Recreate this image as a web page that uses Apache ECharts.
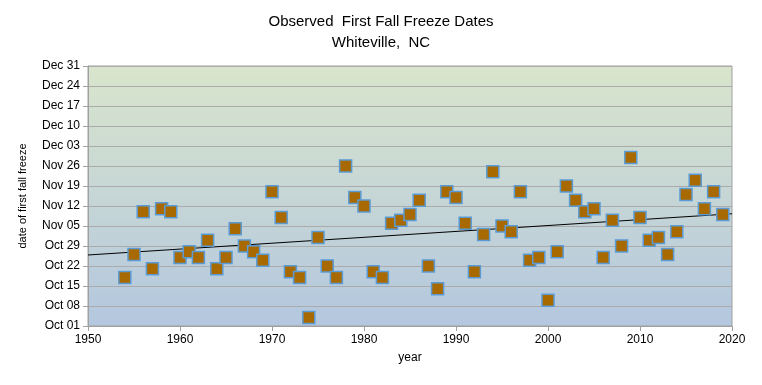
<!DOCTYPE html>
<html><head><meta charset="utf-8">
<script src="https://cdn.jsdelivr.net/npm/echarts@6/dist/echarts.min.js"></script>
<style>html,body{margin:0;padding:0;background:#fff}#c{width:762px;height:385px}</style>
</head><body><div id="c"></div>
<script>
// first freeze: days after Oct 01
var years = [1954,1955,1956,1957,1958,1959,1960,1961,1962,1963,1964,1965,1966,1967,1968,1969,1970,1971,1972,1973,1974,1975,1976,1977,1978,1979,1980,1981,1982,1983,1984,1985,1986,1987,1988,1989,1990,1991,1992,1993,1994,1995,1996,1997,1998,1999,2000,2001,2002,2003,2004,2005,2006,2007,2008,2009,2010,2011,2012,2013,2014,2015,2016,2017,2018,2019];
var freezeDay = [17,25,40,20,41,40,24,26,24,30,20,24,34,28,26,23,47,38,19,17,3,31,21,17,56,45,42,19,17,36,37,39,44,21,13,47,45,36,19,32,54,35,33,47,23,24,9,26,49,44,40,41,24,37,28,59,38,30,31,25,33,46,51,41,47,39];
var yTickLabels = ['Oct 01','Oct 08','Oct 15','Oct 22','Oct 29','Nov 05','Nov 12','Nov 19','Nov 26','Dec 03','Dec 10','Dec 17','Dec 24','Dec 31'];
var xRange = [1950, 2020];

// linear trend
var n = years.length, sx=0, sy=0, sxx=0, sxy=0;
for (var i=0;i<n;i++){sx+=years[i];sy+=freezeDay[i];sxx+=years[i]*years[i];sxy+=years[i]*freezeDay[i];}
var slope=(n*sxy-sx*sy)/(n*sxx-sx*sx), icpt=(sy-slope*sx)/n;
var trend = xRange.map(function(x){return [x, icpt+slope*x];});
var pts = years.map(function(y,i){return [y, freezeDay[i]];});

var chart = echarts.init(document.getElementById('c'));
var font = 'Liberation Sans, Arial, sans-serif';
chart.setOption({
  animation:false,
  title:{text:'Observed  First Fall Freeze Dates\nWhiteville,  NC', left:'center', top:6,
    textStyle:{fontFamily:font,fontSize:15,fontWeight:'normal',color:'#000',lineHeight:21}},
  grid:{left:88,right:30,top:66,bottom:59,show:true,borderColor:'#a0a0a0',borderWidth:1,
    backgroundColor:new echarts.graphic.LinearGradient(0,0,0,1,[{offset:0,color:'#d9e5cc'},{offset:1,color:'#b3c7df'}])},
  xAxis:{type:'value',min:xRange[0],max:xRange[1],interval:10,name:'year',nameLocation:'middle',nameGap:26,
    nameTextStyle:{fontFamily:font,fontSize:12,color:'#000'},
    axisLine:{lineStyle:{color:'#a0a0a0'}},axisTick:{show:true,length:5,lineStyle:{color:'#a0a0a0'}},
    axisLabel:{fontFamily:font,fontSize:12,color:'#000',margin:8,formatter:function(v){return String(v);}},splitLine:{show:false}},
  yAxis:{type:'value',min:0,max:91,interval:7,name:'date of first fall freeze',nameLocation:'middle',nameGap:60,
    nameTextStyle:{fontFamily:font,fontSize:11,color:'#000'},
    axisLine:{show:true,lineStyle:{color:'#a0a0a0'}},axisTick:{show:true,length:5,lineStyle:{color:'#a0a0a0'}},
    axisLabel:{fontFamily:font,fontSize:12,color:'#000',margin:8,formatter:function(v){return yTickLabels[Math.round(v/7)];}},
    splitLine:{lineStyle:{color:'#ababab',width:1}}},
  series:[
    {type:'line',data:trend,symbol:'none',lineStyle:{color:'#000',width:1},z:3,silent:true},
    {type:'scatter',data:pts,symbol:'rect',symbolSize:12,z:4,
      itemStyle:{color:'#a86a00',borderColor:'#5b9bd5',borderWidth:1.5,opacity:1}}
  ]
});
</script></body></html>
